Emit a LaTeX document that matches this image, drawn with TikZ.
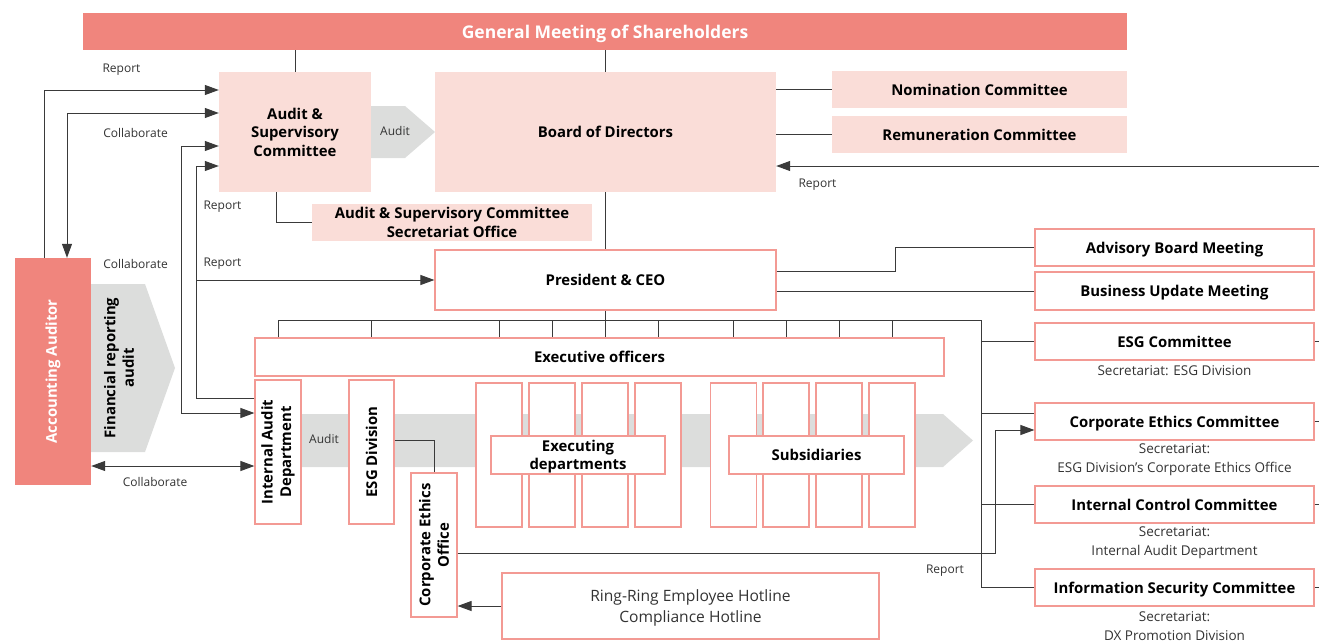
\documentclass[tikz,border=0pt]{standalone}
\usepackage{fontspec}
\setmainfont{Open Sans}
\usetikzlibrary{arrows.meta}

\definecolor{salmon}{HTML}{F0857D}
\definecolor{pinkfill}{HTML}{FADDD8}
\definecolor{boxline}{HTML}{F39A94}
\definecolor{bandgray}{HTML}{DCDDDC}
\definecolor{linegray}{HTML}{3A3A3A}
\definecolor{labelgray}{HTML}{333333}

\newcommand{\headfont}{\fontsize{14.9}{18.5}\selectfont\bfseries}
\newcommand{\notefont}{\fontsize{12}{19}\selectfont}
\newcommand{\secfont}{\fontsize{13.5}{19}\selectfont}

\begin{document}
\begin{tikzpicture}[x=1pt, y=-1pt, >={Triangle[length=14pt,width=10pt]},
  every node/.style={inner sep=0pt, align=center},
  pinkbox/.style={fill=pinkfill, font=\headfont, text depth=0pt},
  redbox/.style={draw=boxline, line width=1.2pt, fill=white, font=\headfont, text depth=0pt},
  vtext/.style={rotate=90, font=\headfont, align=center},
  note/.style={font=\notefont, text=labelgray},
  secnote/.style={font=\secfont, text=labelgray},
  conn/.style={draw=linegray, line width=1pt}]
\useasboundingbox (0,0) rectangle (1319,642);

% grey audit arrows, drawn first so the boxes sit on top
\fill[bandgray] (91,284) -- (145,284) -- (175,368) -- (145,452) -- (91,452) -- cycle;
\fill[bandgray] (371,106) -- (405,106) -- (435,132) -- (405,158) -- (371,158) -- cycle;
\fill[bandgray] (301,414) -- (943,414) -- (973,440.5) -- (943,467) -- (301,467) -- cycle;

% governance bodies
\node[fill=salmon, text=white, font=\fontsize{17.5}{20}\selectfont\bfseries, text depth=0pt, minimum width=1044pt, minimum height=37pt] (gms) at (605,31.5) {General Meeting of Shareholders};
\node[pinkbox, minimum width=152pt, minimum height=120pt] (asc) at (295,132) {Audit \&\\Supervisory\\Committee};
\node[pinkbox, minimum width=341pt, minimum height=120pt] (bod) at (605.5,132) {Board of Directors};
\node[pinkbox, minimum width=295pt, minimum height=37pt] (nom) at (979.5,89.5) {Nomination Committee};
\node[pinkbox, minimum width=295pt, minimum height=37pt] (rem) at (979.5,134.5) {Remuneration Committee};
\node[pinkbox, minimum width=280pt, minimum height=37pt] (secoff) at (452,222.5) {Audit \& Supervisory Committee\\Secretariat Office};

% execution side
\node[redbox, minimum width=341pt, minimum height=60pt] (ceo) at (605.5,280) {President \& CEO};
\node[redbox, minimum width=279pt, minimum height=37pt] (abm) at (1174.5,247.5) {Advisory Board Meeting};
\node[redbox, minimum width=279pt, minimum height=38pt] (bum) at (1174.5,291) {Business Update Meeting};
\node[redbox, minimum width=689pt, minimum height=38pt] (exo) at (599.5,357) {Executive officers};

\foreach \i/\x in {1/499,2/552,3/605,4/658}
  \node[redbox, minimum width=46pt, minimum height=144pt] (ed\i) at (\x,455) {};
\foreach \i/\x in {1/733.5,2/786,3/839,4/892}
  \node[redbox, minimum width=46pt, minimum height=144pt] (sb\i) at (\x,455) {};
\node[redbox, minimum width=174pt, minimum height=38pt] (edlbl) at (578,455) {Executing\\departments};
\node[redbox, minimum width=175pt, minimum height=38pt] (sblbl) at (816.5,455) {Subsidiaries};

\node[fill=salmon, minimum width=76pt, minimum height=227pt, label={[vtext, text=white]center:Accounting Auditor}] (auditor) at (53,371.5) {};
\node[vtext] (fra) at (119,368) {Financial reporting\\audit};
\node[redbox, minimum width=46pt, minimum height=144pt, label={[vtext]center:Internal Audit\\Department}] (iad) at (278,452) {};
\node[redbox, minimum width=45pt, minimum height=144pt, label={[vtext]center:ESG Division}] (esgd) at (371.5,452) {};
\node[redbox, minimum width=46pt, minimum height=144pt, label={[vtext]center:Corporate Ethics\\Office}] (ethoff) at (434,545) {};
\node[draw=boxline, line width=1.2pt, minimum width=377pt, minimum height=66pt, text=labelgray, text depth=0pt, font=\fontsize{15.6}{21}\selectfont] (hotline) at (690.5,606) {Ring-Ring Employee Hotline\\Compliance Hotline};

% committees on the right
\node[redbox, minimum width=279pt, minimum height=37pt] (esgc) at (1174.5,341.5) {ESG Committee};
\node[secnote] (esgcsec) at (1174.5,371) {Secretariat: ESG Division};
\node[redbox, minimum width=279pt, minimum height=37pt] (cec) at (1174.5,421.5) {Corporate Ethics Committee};
\node[secnote] (cecsec) at (1174.5,459.5) {Secretariat:\\ESG Division’s Corporate Ethics Office};
\node[redbox, minimum width=279pt, minimum height=37pt] (icc) at (1174.5,504.5) {Internal Control Committee};
\node[secnote] (iccsec) at (1174.5,542.5) {Secretariat:\\Internal Audit Department};
\node[redbox, minimum width=279pt, minimum height=37pt] (isc) at (1174.5,587.5) {Information Security Committee};
\node[secnote] (iscsec) at (1174.5,626) {Secretariat:\\DX Promotion Division};

% connectors
\coordinate (edge) at (1319,166);
\coordinate (frameNE) at (981,320);
\coordinate (repx) at (197,0);
\coordinate (ceout) at ([yshift=8.5pt]cec.west);
\coordinate (cein) at ([yshift=-8.5pt]cec.west);

\draw[conn] (gms.south -| asc) -- (asc.north);
\draw[conn] (gms.south -| bod) -- (bod.north);
\draw[conn] (bod.south) -- (ceo.north);
\draw[conn] ([xshift=-19pt]asc.south) |- (secoff.west);
\draw[conn] (nom.west -| bod.east) -- (nom.west);
\draw[conn] (rem.west -| bod.east) -- (rem.west);
\draw[conn,->] (edge) -- (edge -| bod.east);
\draw[conn] ([yshift=9pt]ceo.east) -| (895,247.5) -- (abm.west);
\draw[conn] (bum.west -| ceo.east) -- (bum.west);

\draw[conn] (ceo.south) -- (ceo.south |- frameNE);
\draw[conn] (exo.north -| iad) |- (frameNE) |- (isc.west);
\foreach \n in {esgd,ed1,ed2,ed3,ed4,sb1,sb2,sb3,sb4}
  \draw[conn] (\n |- frameNE) -- (\n |- exo.north);
\foreach \n in {esgc,icc}
  \draw[conn] (\n.west -| frameNE) -- (\n.west);
\draw[conn] (ceout -| frameNE) -- (ceout);
\foreach \n in {esgc,cec,icc,isc}
  \draw[conn] (\n.east) -- (\n.east -| edge);

\draw[conn] ([yshift=12pt]esgd.east) -| (ethoff.north);
\draw[conn,->] ([yshift=-8pt]ethoff.east) -- ++(538,0) |- (cein);
\draw[conn,->] (hotline.west) -- (hotline.west -| ethoff.east);

\draw[conn,->] ([xshift=-9pt]auditor.north) |- ([yshift=42pt]asc.west);
\draw[conn,<->] ([yshift=19pt]asc.west) -| ([xshift=14pt]auditor.north);
\draw[conn,<->] ([yshift=-14pt]asc.west) -- ++(-37,0) |- ([yshift=39pt]iad.west);
\draw[conn,->] ([yshift=54pt]iad.west) -- ++(-58,0) |- ([yshift=-34pt]asc.west);
\draw[conn,->] (ceo.west -| repx) -- (ceo.west);
\draw[conn,<->] ([yshift=-14pt]iad.west -| auditor.east) -- ([yshift=-14pt]iad.west);

% connector labels
\node[note] (lrep1) at (121.5,69.5) {Report};
\node[note] (lcol1) at (135.5,132.5) {Collaborate};
\node[note] (lcol2) at (135.5,263.5) {Collaborate};
\node[note] (lrep2) at (222.5,206.5) {Report};
\node[note] (lrep3) at (222.5,263.5) {Report};
\node[note] (lcol3) at (155,481.5) {Collaborate};
\node[note] (laud1) at (395,130.5) {Audit};
\node[note] (laud2) at (324,438.5) {Audit};
\node[note] (lrep4) at (817.5,184.5) {Report};
\node[note] (lrep5) at (945,570.5) {Report};
\end{tikzpicture}
\end{document}
